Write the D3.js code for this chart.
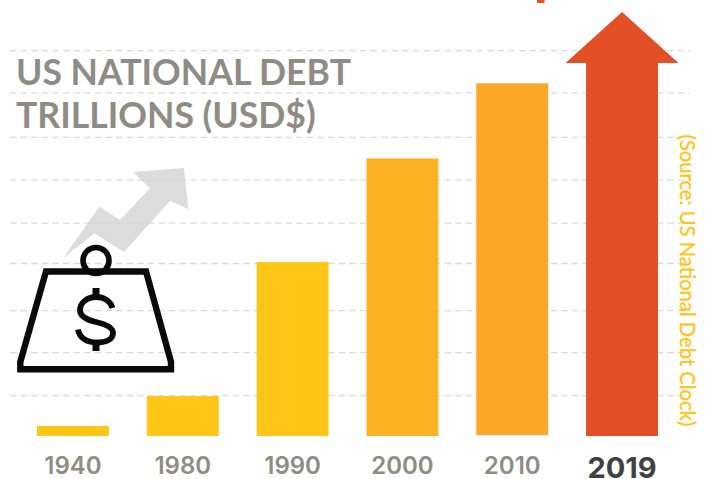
<!DOCTYPE html>
<html>
<head>
<meta charset="utf-8">
<script src="https://cdn.jsdelivr.net/npm/d3@7"></script>
<style>
  html, body { margin: 0; padding: 0; background: #fff; overflow: hidden; }
  svg { display: block; font-family: Lato, sans-serif; }
</style>
</head>
<body>
<svg id="chart" width="706" height="479"></svg>
<script>
// Debt level per period, in trillions of dollars
const years = ["1940", "1980", "1990", "2000", "2010", "2019"];
const debtValues = [0.52, 2.07, 9.03, 14.4, 18.3, 19.35];
const barBases = [0, 0, 0, 0, 0.05, 0];
const arrowTipValue = 22;
const gridValues = [2.1, 4.33, 6.51, 8.95, 11.05, 13.28, 15.49, 17.8, 20];
const barColors = ["#ffc617", "#ffc617", "#ffc617", "#fdb223", "#fba727", "#e35025"];
const titleLines = ["US NATIONAL DEBT", "TRILLIONS (USD$)"];
const sourceNote = "(Source: US National Debt Clock)";

const svg = d3.select("#chart");

const x = d3.scaleBand().domain(years).range([37, 658]).paddingInner(0.345).paddingOuter(0);
const y = d3.scaleLinear().domain([0, arrowTipValue]).range([436, 12]);
const color = d3.scaleOrdinal(years, barColors);

// Grey rising arrow behind the grid
const trendPoints = [[63, 258.3], [99.3, 206.7], [120, 220], [150, 188.3], [133.3, 172], [184, 168],
                     [188.3, 209], [170, 201], [124, 252], [94.3, 233.3]];
svg.append("polygon")
  .attr("points", trendPoints.map(p => p.join(",")).join(" "))
  .attr("fill", "#dcdcdc");

// Dashed horizontal grid
svg.append("g")
  .attr("class", "grid")
  .selectAll("line")
  .data(gridValues)
  .join("line")
  .attr("x1", 10).attr("x2", 690)
  .attr("y1", d => y(d)).attr("y2", d => y(d))
  .attr("stroke", "#d4d4d2")
  .attr("stroke-opacity", 0.85)
  .attr("stroke-width", 1.3)
  .attr("stroke-dasharray", "6.5 4.1");

// Bars; the latest period becomes an arrow rising to the tip value
const records = years.map((year, i) => ({ year, value: debtValues[i], base: barBases[i] }));
const last = years[years.length - 1];

svg.append("g")
  .selectAll("rect")
  .data(records.filter(d => d.year !== last))
  .join("rect")
  .attr("x", d => x(d.year))
  .attr("width", x.bandwidth())
  .attr("y", d => y(d.value))
  .attr("height", d => y(d.base) - y(d.value))
  .attr("fill", d => color(d.year));

const lastRecord = records[records.length - 1];
const cx = x(last) + x.bandwidth() / 2;
const headOverhang = 20.5;
const arrowPath = d3.path();
arrowPath.moveTo(x(last), y(0));
arrowPath.lineTo(x(last), y(lastRecord.value));
arrowPath.lineTo(x(last) - headOverhang, y(lastRecord.value));
arrowPath.lineTo(cx, y(arrowTipValue));
arrowPath.lineTo(x(last) + x.bandwidth() + headOverhang, y(lastRecord.value));
arrowPath.lineTo(x(last) + x.bandwidth(), y(lastRecord.value));
arrowPath.lineTo(x(last) + x.bandwidth(), y(0));
arrowPath.closePath();
svg.append("path").attr("d", arrowPath.toString()).attr("fill", color(last));

// Clipped remnant of the headline at the top edge
svg.append("rect").attr("x", 537).attr("y", 0).attr("width", 7.5).attr("height", 3).attr("fill", "#e35025");

// Year labels
const axis = svg.append("g")
  .attr("transform", "translate(0,451)")
  .call(d3.axisBottom(x).tickSize(0).tickPadding(0));
axis.select(".domain").remove();
axis.selectAll("text")
  .attr("y", 0)
  .attr("dy", d => d === last ? 26.8 : 23.3)
  .attr("fill", d => d === last ? "#404142" : "#8f8c85")
  .attr("font-family", "Inter, sans-serif")
  .attr("font-weight", d => d === last ? 700 : 600)
  .attr("font-size", d => d === last ? 29 : 24);

// Title
svg.append("g")
  .selectAll("text")
  .data(titleLines)
  .join("text")
  .attr("x", 16)
  .attr("y", (d, i) => 85 + i * 43)
  .attr("fill", "#8f8c85")
  .attr("font-weight", 700)
  .attr("font-size", 35.6)
  .text(d => d);

// Source note, reading downward along the right edge
svg.append("text")
  .attr("transform", "translate(680,134.5) rotate(90)")
  .attr("fill", "#fec516")
  .attr("stroke", "#fec516")
  .attr("stroke-width", 0.3)
  .attr("font-size", 20.2)
  .text(sourceNote);

// Money-weight icon
const icon = svg.append("g").attr("fill", "none").attr("stroke", "#0a0a0a");
icon.append("circle").attr("cx", 96).attr("cy", 260.5).attr("r", 13).attr("stroke-width", 5.6);
icon.append("path")
  .attr("d", "M46,271.5 L146,271.5 L171,362 L171,369.2 L20.3,369.2 L20.3,362 Z")
  .attr("stroke-width", 6.4)
  .attr("stroke-linejoin", "miter");
icon.append("path")
  .attr("d", "M112.5,308 C110.5,301 104,297 96,297 C87,297 80,303 80,310 C80,317 87,320 96,322 C105,324 113,327 113,333 C113,340 105,342.5 96,342.5 C87,342.5 79.5,338 78,329.5")
  .attr("stroke-width", 5.8);
icon.append("path").attr("d", "M96,288 L96,297 M96,342 L96,351").attr("stroke-width", 7);
</script>
</body>
</html>
